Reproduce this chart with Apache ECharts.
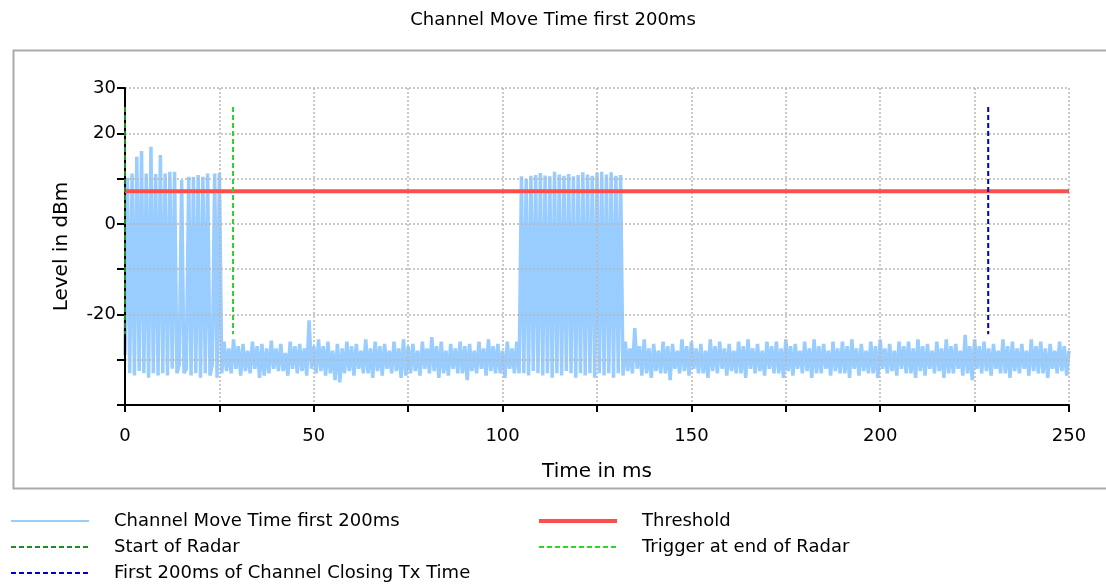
<!DOCTYPE html>
<html>
<head>
<meta charset="utf-8">
<script src="https://cdn.jsdelivr.net/npm/echarts@6/dist/echarts.min.js"></script>
<style>
html,body{margin:0;padding:0;background:#fff;}
#chart{width:1106px;height:586px;}
</style>
</head>
<body>
<div id="chart"></div>
<script>
// ---- data ----
const titleText = 'Channel Move Time first 200ms';
const seriesNames = ['Channel Move Time first 200ms', 'Threshold', 'Start of Radar', 'Trigger at end of Radar', 'First 200ms of Channel Closing Tx Time'];
const sampleStepMs = 0.625;
// measured level (dBm) per sample, starting at 0 ms
const levels = [
  -29, 10.2, -33, 11.1, -33.5, 14.8, -32.5, 16.1, -33, 11.1,
  -34, 17.0, -33, 11.0, -33.5, 15.2, -33, 11.1, -33.5, 11.5,
  -32, 11.5, -33, -31, 9.7, -33, -32, 10.4, -33.5, 10.4,
  -33, 10.8, -34, 10.4, -33, 11.1, -33.5, -31, 11.1, -34,
  11.2, -33,
  -26, -32.5, -27.5, -33,  -25.5, -32, -27, -33.5,  -26.5, -32.5, -28, -33,  -26, -32, -27, -34,
  -26.5, -33.5, -27.5, -33,  -25.8, -32, -27.5, -32.5,  -26.5, -32.5, -28.5, -33.5,  -26, -32, -27, -33,
  -26.5, -32.5, -27.5, -33.5,  -21.3, -32, -27, -33,  -25.5, -32.5, -27, -33.5,  -26, -33, -28, -34.5,
  -26.5, -35, -27.5, -33,  -26, -32.5, -27, -33.5,  -26.5, -32, -28, -33,  -25.5, -33, -27.5, -34,
  -26, -32.5, -27, -33.5,  -26.5, -32, -28, -33,  -26, -32.5, -27.5, -34,  -25.5, -33.5, -27, -33,
  -26.5, -32.5, -28, -33.5,  -26, -32, -27.5, -33,  -25, -32.5, -27, -34,  -26, -33, -28, -33.5,
  -26.5, -32, -27.5, -33,  -26, -33, -27, -34.5,  -26.5, -32.5, -28, -33,  -26, -32, -27.5, -33.5,
  -25.5, -32.5, -27, -33,  -26.5, -33, -28, -34,  -26, -32, -27.5, -33,
  -26, -33,
  10.5, -33, 9.9, -33.5, 10.6, -32.5, 10.8, -33, 11.2, -33.5,
  10.7, -33, 10.5, -34, 11.5, -33, 10.9, -33.5, 10.6, -32.5,
  11.0, -33, 10.5, -34, 10.8, -33, 11.4, -33.5, 10.9, -33,
  10.6, -34, 11.3, -33, 11.5, -33.5, 10.9, -33, 11.4, -34,
  10.6, -33, 10.8, -33.5,
  -26, -32.5, -27.5, -33,  -23, -32, -27, -33.5,  -25.5, -33, -27.5, -34,  -26.5, -32.5, -28, -33,
  -26, -33, -27, -34.5,  -26.5, -32, -28, -33,  -25.5, -32.5, -27, -33.5,  -26, -32, -27.5, -33,
  -26.5, -33, -28, -34,  -25.5, -32.5, -27, -33,  -26, -32, -27.5, -33.5,  -26.5, -32.5, -28, -33,
  -26, -33, -27, -34,  -25.5, -32, -27.5, -33,  -26.5, -32.5, -28, -33.5,  -26, -32, -27, -33,
  -26, -33, -27.5, -34,  -25.5, -32.5, -27, -33.5,  -26.5, -32, -28, -33,  -26, -32.5, -27.5, -34,
  -25.5, -33, -27, -33,  -26.5, -32, -28, -33.5,  -26, -32.5, -27.5, -33,  -26, -33, -27, -34,
  -25.5, -32, -27.5, -33.5,  -26.5, -32.5, -28, -33,  -26, -33, -27, -34,  -25.5, -32, -27.5, -33,
  -26.5, -32.5, -28, -33.5,  -26, -32, -27, -33,  -26, -33, -27.5, -34,  -25.5, -32.5, -27, -33.5,
  -26.5, -32, -28, -33,  -26, -32.5, -27.5, -34,  -25.5, -33, -27, -33,  -26.5, -32, -28, -33.5,
  -24.5, -33, -27, -34.5,  -25.5, -32, -27, -33,  -26, -32.5, -27.5, -33.5,  -26.5, -32, -28, -33,
  -25.5, -33, -27, -34,  -26, -32.5, -27.5, -33,  -26.5, -32, -28, -33.5,  -25.5, -32.5, -27, -33,
  -26, -33, -27.5, -34,  -26.5, -32, -28, -33,  -26, -32.5, -27, -33.5,
  -28
];
const thresholdDbm = 7.2;
const thresholdSpanMs = [0, 250];
const radarStartMs = 0;
const radarEndMs = 28.6;
const closingStartMs = 228.6;
const markerLevels = [25.8, -24.4];
const xRange = [0, 250];
const xStep = 25;
const xLabelStep = 50;
const yRange = [-40, 30];
const yStep = 10;
const yLabels = [30, 20, 0, -20];

// ---- build ----
const FONT = 'DejaVu Sans';
const signal = levels.map((v, i) => [i * sampleStepMs, v]);
const vline = (t) => markerLevels.map(v => [t, v]);
const legendText = {fontFamily: FONT, fontSize: 18, color: '#000', lineHeight: 20, padding: [0, 0, 0, 20]};

const chart = echarts.init(document.getElementById('chart'), null, {renderer: 'canvas'});
chart.setOption({
  animation: false,
  backgroundColor: '#fff',
  title: {
    text: titleText, left: 'center', top: 11, padding: 0,
    textStyle: {fontFamily: FONT, fontSize: 18, fontWeight: 'normal', color: '#000'}
  },
  graphic: [{
    type: 'rect', left: 11, top: 48, z: -10, silent: true,
    shape: {x: 0, y: 0, width: 1100, height: 438},
    style: {fill: 'none', stroke: '#aaa', lineWidth: 2}
  }],
  legend: [{
    left: 10, top: 511, orient: 'vertical', padding: 0, itemGap: 6,
    itemWidth: 78, itemHeight: 14, selectedMode: false,
    itemStyle: {opacity: 0},
    data: [
      {name: seriesNames[0], lineStyle: {width: 2}},
      {name: seriesNames[2], lineStyle: {width: 2}},
      {name: seriesNames[4], lineStyle: {width: 2}}
    ],
    textStyle: legendText
  }, {
    left: 537, top: 511, orient: 'vertical', padding: 0, itemGap: 6,
    itemWidth: 78, itemHeight: 14, selectedMode: false,
    itemStyle: {opacity: 0},
    data: [
      {name: seriesNames[1], lineStyle: {width: 4}},
      {name: seriesNames[3], lineStyle: {width: 2}}
    ],
    textStyle: legendText
  }],
  grid: {left: 125, right: 37, top: 88, bottom: 181, containLabel: false},
  xAxis: {
    type: 'value', min: xRange[0], max: xRange[1], interval: xStep, z: 3,
    name: 'Time in ms', nameLocation: 'middle', nameGap: 57,
    nameTextStyle: {fontFamily: FONT, fontSize: 20, color: '#000'},
    axisLine: {show: true, onZero: false, lineStyle: {color: '#000', width: 2}},
    axisTick: {show: true, length: 7, lineStyle: {color: '#000', width: 2}},
    axisLabel: {
      margin: 22, fontFamily: FONT, fontSize: 18, color: '#000',
      formatter: v => (v % xLabelStep === 0 ? String(v) : '')
    },
    splitLine: {show: true, lineStyle: {color: '#b8b8b8', width: 1.5, type: [2, 2]}}
  },
  yAxis: {
    type: 'value', min: yRange[0], max: yRange[1], interval: yStep, z: 3,
    name: 'Level in dBm', nameLocation: 'middle', nameGap: 53,
    nameTextStyle: {fontFamily: FONT, fontSize: 20, color: '#000'},
    axisLine: {show: true, onZero: false, lineStyle: {color: '#000', width: 2}},
    axisTick: {show: true, length: 8, lineStyle: {color: '#000', width: 2}},
    axisLabel: {
      margin: 9, fontFamily: FONT, fontSize: 18, color: '#000',
      formatter: v => (yLabels.indexOf(v) >= 0 ? String(v) : '')
    },
    splitLine: {show: true, lineStyle: {color: '#b8b8b8', width: 1.5, type: [2, 2]}}
  },
  series: [{
    name: seriesNames[0], type: 'line', data: signal, symbol: 'none', z: 2,
    lineStyle: {color: '#99ccff', width: 3.5}, itemStyle: {color: '#99ccff'}
  }, {
    name: seriesNames[1], type: 'line', data: thresholdSpanMs.map(t => [t, thresholdDbm]), symbol: 'none', z: 4,
    lineStyle: {color: '#ff4d4d', width: 4}, itemStyle: {color: '#ff4d4d'}
  }, {
    name: seriesNames[2], type: 'line', data: vline(radarStartMs), symbol: 'none', z: 5,
    lineStyle: {color: '#1e8c1e', width: 2, type: [5, 3]}, itemStyle: {color: '#1e8c1e'}
  }, {
    name: seriesNames[3], type: 'line', data: vline(radarEndMs), symbol: 'none', z: 5,
    lineStyle: {color: '#22dd22', width: 2, type: [5, 3]}, itemStyle: {color: '#22dd22'}
  }, {
    name: seriesNames[4], type: 'line', data: vline(closingStartMs), symbol: 'none', z: 5,
    lineStyle: {color: '#0000cc', width: 2, type: [5, 3]}, itemStyle: {color: '#0000cc'}
  }]
});
</script>
</body>
</html>
